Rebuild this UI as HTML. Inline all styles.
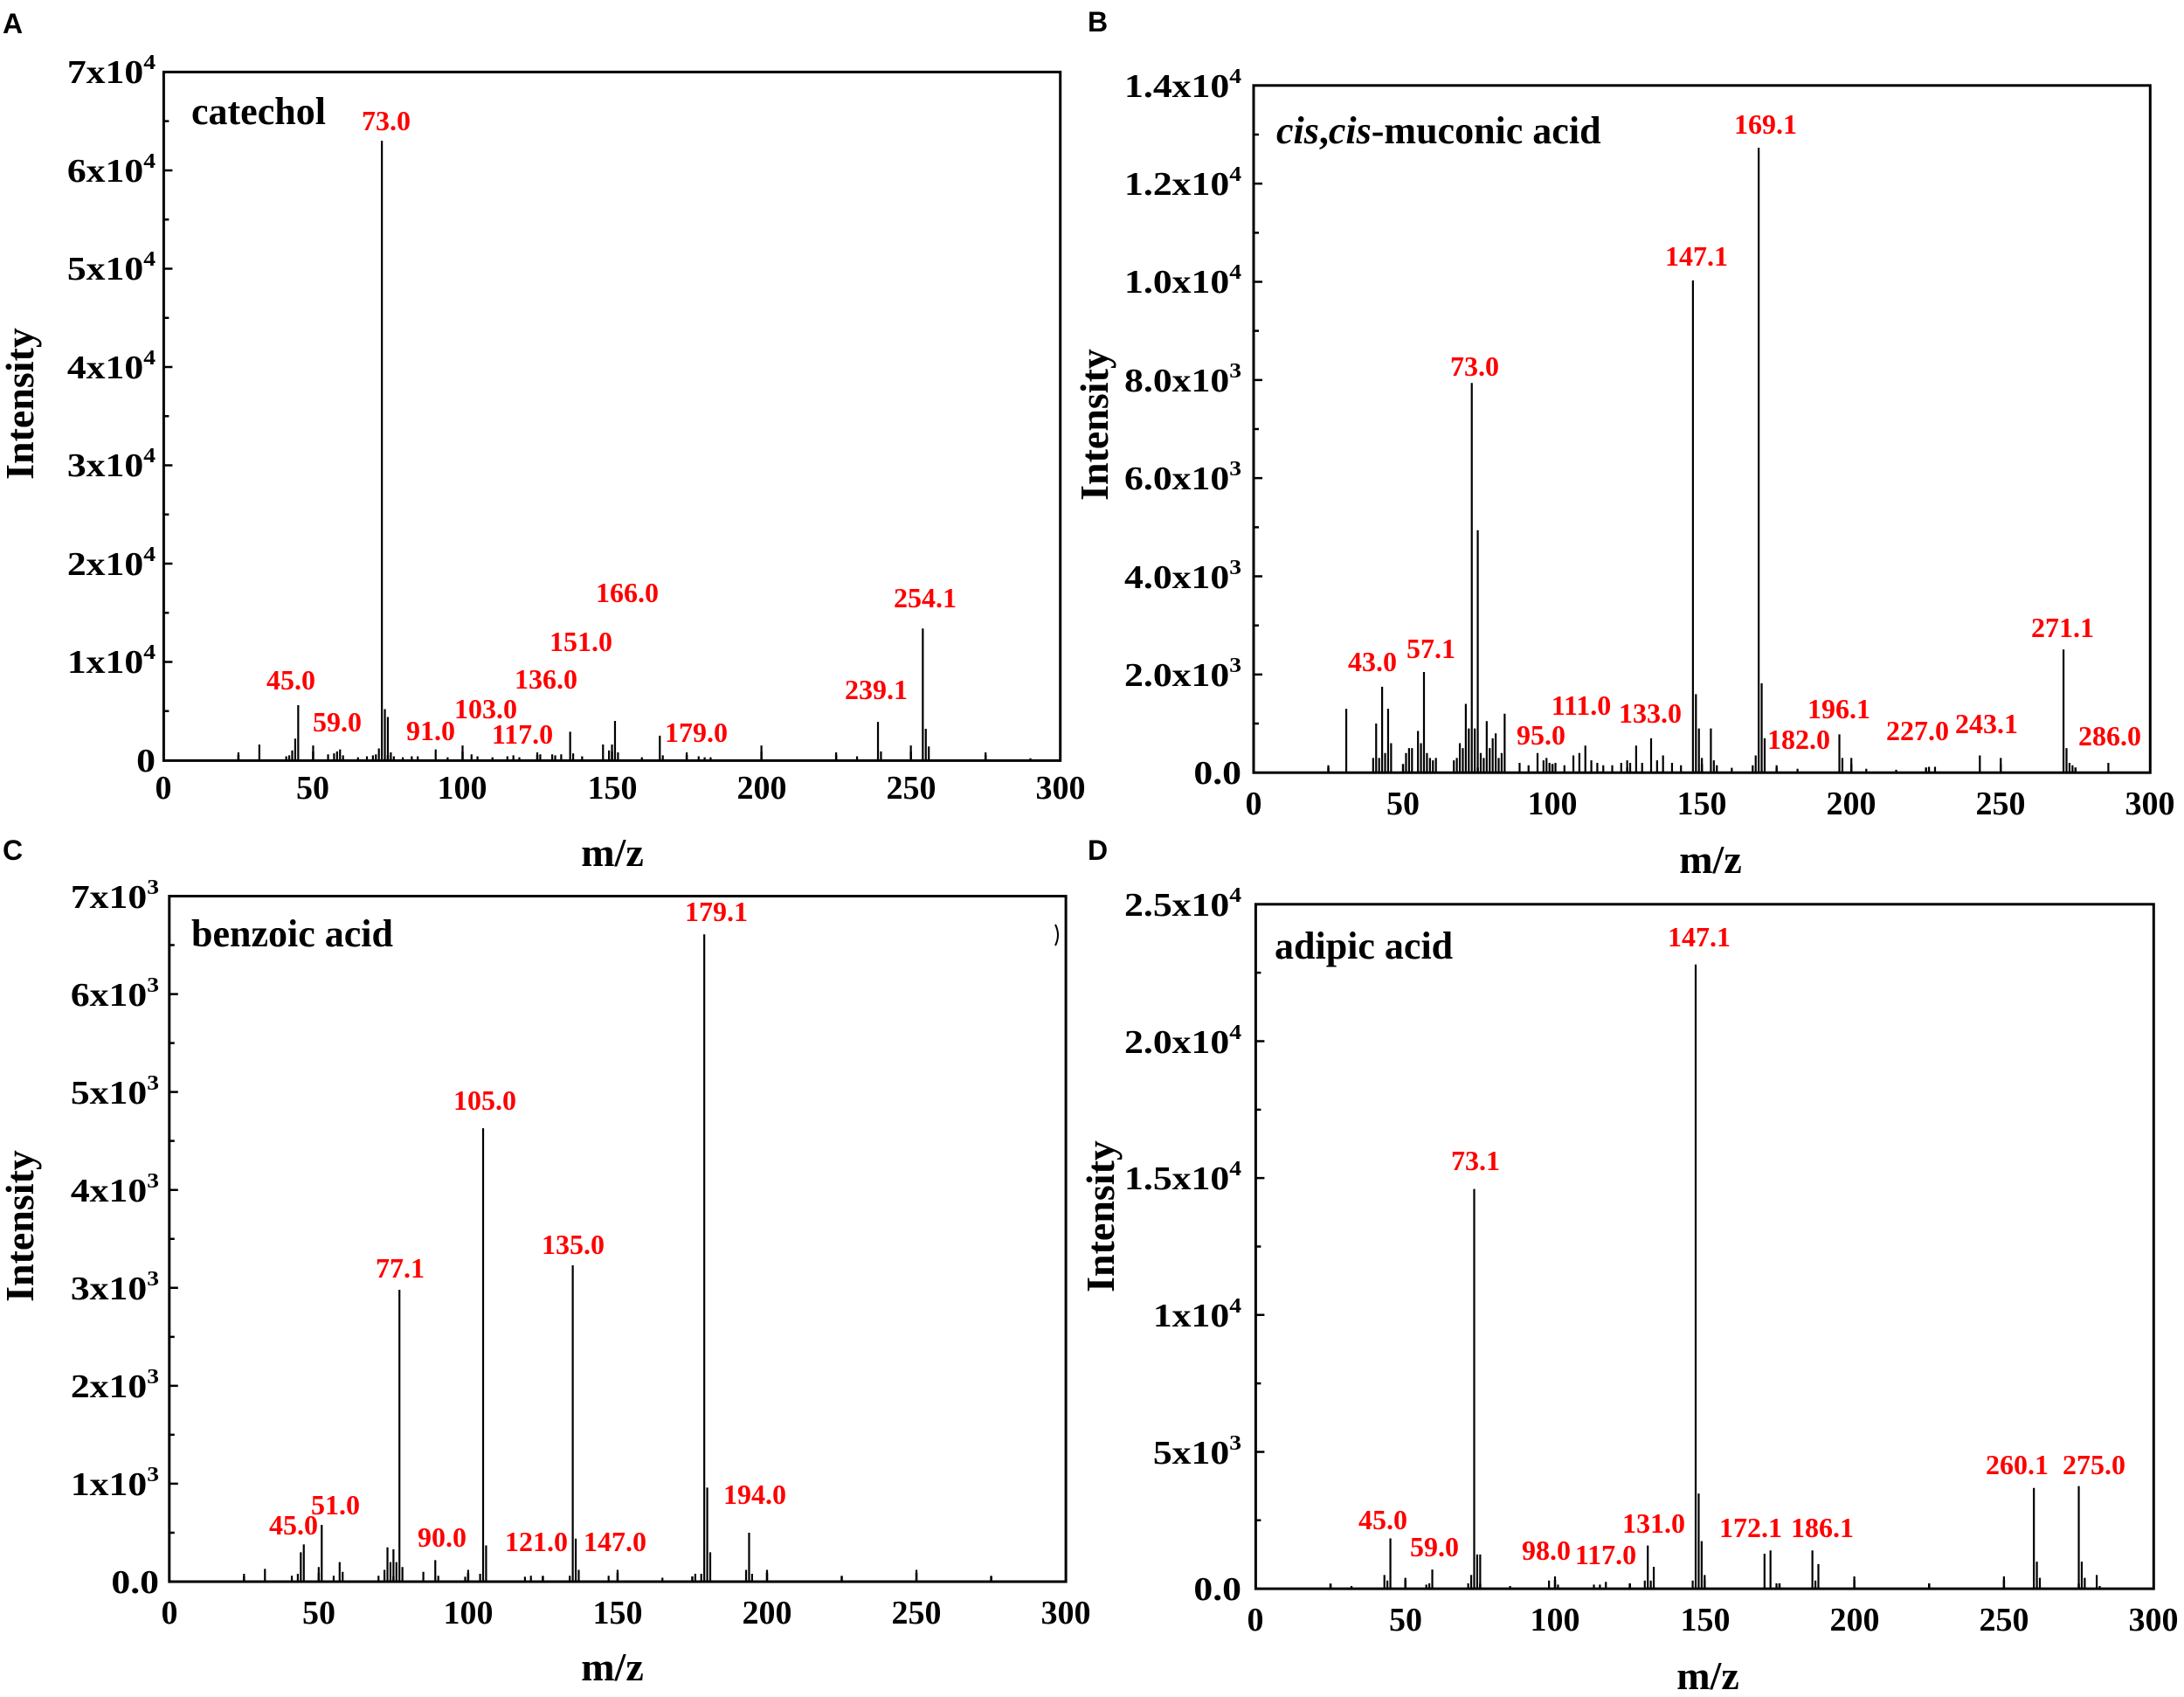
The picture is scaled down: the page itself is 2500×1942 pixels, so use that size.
<!DOCTYPE html>
<html><head><meta charset="utf-8"><style>
html,body{margin:0;padding:0;background:#fff}
svg{display:block}
.t{font-family:"Liberation Serif",serif;font-weight:bold;font-size:38px;fill:#000}
.r{font-family:"Liberation Serif",serif;font-weight:bold;font-size:32px;fill:#f00;text-anchor:middle}
.ti{font-family:"Liberation Serif",serif;font-weight:bold;font-size:44px;fill:#000}
.ax{font-family:"Liberation Serif",serif;font-weight:bold;font-size:46px;fill:#000;text-anchor:middle}
.pl{font-family:"Liberation Sans",sans-serif;font-weight:bold;font-size:32px;fill:#000}
.xt{text-anchor:middle}
.yt{text-anchor:end}
.pk{fill:none;stroke:#000;stroke-width:2.2}
.tk{fill:none;stroke:#000;stroke-width:2.5}
.box{fill:none;stroke:#000;stroke-width:3}
</style></head><body>
<svg width="2500" height="1942" viewBox="0 0 2500 1942" xmlns="http://www.w3.org/2000/svg">
<rect width="2500" height="1942" fill="#fff"/>

<!-- panel letters -->
<text class="pl" x="3" y="38">A</text>
<text class="pl" x="1245" y="36">B</text>
<text class="pl" x="3" y="984">C</text>
<text class="pl" x="1245" y="984">D</text>

<!-- ================= PANEL A ================= -->
<g transform="translate(187.4,870) scale(3.421,-0.011251)">
<path class="pk" vector-effect="non-scaling-stroke" d="M73 0V63000M74 0V5200M75 0V4400M72 0V1200M71 0V600M76 0V800M45 0V5600M44 0V2200M43 0V1000M42 0V500M41 0V400M32 0V1600M25 0V800M50 0V1500M55 0V600M57 0V700M58 0V900M59 0V1100M60 0V500M65 0V300M68 0V400M70 0V500M77 0V400M80 0V300M83 0V400M85 0V400M91 0V1100M95 0V300M100 0V1500M103 0V600M105 0V400M110 0V300M115 0V400M117 0V500M119 0V300M125 0V800M126 0V600M130 0V600M131 0V500M133 0V600M136 0V2900M137 0V700M140 0V400M147 0V1600M149 0V1000M150 0V1600M151 0V4000M152 0V800M160 0V300M166 0V2500M167 0V500M175 0V800M179 0V400M181 0V300M183 0V300M200 0V1500M225 0V800M232 0V400M239 0V3900M240 0V900M250 0V1500M254 0V13400M255 0V3200M256 0V1400M275 0V800M290 0V200"/>
<path class="tk" vector-effect="non-scaling-stroke" d="M0 10000h2.92M0 20000h2.92M0 30000h2.92M0 40000h2.92M0 50000h2.92M0 60000h2.92M0 5000h1.75M0 15000h1.75M0 25000h1.75M0 35000h1.75M0 45000h1.75M0 55000h1.75M0 65000h1.75M50 0v889M100 0v889M150 0v889M200 0v889M250 0v889M25 0v533M75 0v533M125 0v533M175 0v533M225 0v533M275 0v533"/>
</g>
<rect class="box" x="187.4" y="82.4" width="1026.3" height="788"/>
<g class="t">
<text class="yt" transform="translate(178,883) scale(1.15,1)">0</text>
<text class="yt" transform="translate(178,770) scale(1.15,1)">1x10<tspan font-size="24" dy="-16">4</tspan></text>
<text class="yt" transform="translate(178,658) scale(1.15,1)">2x10<tspan font-size="24" dy="-16">4</tspan></text>
<text class="yt" transform="translate(178,545) scale(1.15,1)">3x10<tspan font-size="24" dy="-16">4</tspan></text>
<text class="yt" transform="translate(178,433) scale(1.15,1)">4x10<tspan font-size="24" dy="-16">4</tspan></text>
<text class="yt" transform="translate(178,320) scale(1.15,1)">5x10<tspan font-size="24" dy="-16">4</tspan></text>
<text class="yt" transform="translate(178,208) scale(1.15,1)">6x10<tspan font-size="24" dy="-16">4</tspan></text>
<text class="yt" transform="translate(178,95) scale(1.15,1)">7x10<tspan font-size="24" dy="-16">4</tspan></text>
<text class="xt" x="187" y="914">0</text><text class="xt" x="358" y="914">50</text><text class="xt" x="529" y="914">100</text><text class="xt" x="701" y="914">150</text><text class="xt" x="872" y="914">200</text><text class="xt" x="1043" y="914">250</text><text class="xt" x="1214" y="914">300</text>
</g>
<text class="ti" x="219" y="142">catechol</text>
<g class="r">
<text x="442" y="149">73.0</text><text x="333" y="789">45.0</text><text x="386" y="837">59.0</text><text x="493" y="847">91.0</text><text x="556" y="822">103.0</text><text x="598" y="851">117.0</text><text x="625" y="788">136.0</text><text x="665" y="745">151.0</text><text x="718" y="689">166.0</text><text x="797" y="849">179.0</text><text x="1003" y="800">239.1</text><text x="1059" y="695">254.1</text>
</g>
<text class="ax" x="701" y="991">m/z</text>
<text class="ax" transform="translate(38,462) rotate(-90)">Intensity</text>

<!-- ================= PANEL B ================= -->
<g transform="translate(1435,884.2) scale(3.421,-0.05617)">
<path class="pk" vector-effect="non-scaling-stroke" d="M169 0V12730M170 0V1820M171 0V700M168 0V350M167 0V150M147 0V10030M148 0V1600M149 0V900M150 0V300M153 0V900M154 0V250M73 0V7940M75 0V4940M74 0V900M72 0V900M71 0V1400M70 0V500M69 0V600M68 0V300M67 0V250M76 0V400M77 0V300M78 0V1050M79 0V500M80 0V700M81 0V800M82 0V300M83 0V400M84 0V1200M57 0V2050M43 0V1750M45 0V1300M41 0V1000M42 0V300M40 0V300M44 0V400M46 0V600M31 0V1300M25 0V150M51 0V400M52 0V500M53 0V500M55 0V850M56 0V600M58 0V400M59 0V300M60 0V250M61 0V300M89 0V200M92 0V150M95 0V400M97 0V250M98 0V300M99 0V200M101 0V200M104 0V150M107 0V350M109 0V400M111 0V550M113 0V250M115 0V200M117 0V150M120 0V150M123 0V200M125 0V250M126 0V200M128 0V550M130 0V200M133 0V700M135 0V250M137 0V350M140 0V200M143 0V150M155 0V150M160 0V100M175 0V150M182 0V80M196 0V780M197 0V300M200 0V300M205 0V80M215 0V60M226 0V120M228 0V120M243 0V350M250 0V300M271 0V2510M272 0V500M273 0V200M274 0V150M286 0V200"/>
<path class="tk" vector-effect="non-scaling-stroke" d="M0 2000h2.92M0 4000h2.92M0 6000h2.92M0 8000h2.92M0 10000h2.92M0 12000h2.92M0 1000h1.75M0 3000h1.75M0 5000h1.75M0 7000h1.75M0 9000h1.75M0 11000h1.75M0 13000h1.75M50 0v178M100 0v178M150 0v178M200 0v178M250 0v178M25 0v107M75 0v107M125 0v107M175 0v107M225 0v107M275 0v107"/>
</g>
<rect class="box" x="1435" y="97.8" width="1026.3" height="786.4"/>
<g class="t">
<text class="yt" transform="translate(1421,897) scale(1.15,1)">0.0</text>
<text class="yt" transform="translate(1421,785) scale(1.15,1)">2.0x10<tspan font-size="24" dy="-16">3</tspan></text>
<text class="yt" transform="translate(1421,673) scale(1.15,1)">4.0x10<tspan font-size="24" dy="-16">3</tspan></text>
<text class="yt" transform="translate(1421,560) scale(1.15,1)">6.0x10<tspan font-size="24" dy="-16">3</tspan></text>
<text class="yt" transform="translate(1421,448) scale(1.15,1)">8.0x10<tspan font-size="24" dy="-16">3</tspan></text>
<text class="yt" transform="translate(1421,335) scale(1.15,1)">1.0x10<tspan font-size="24" dy="-16">4</tspan></text>
<text class="yt" transform="translate(1421,223) scale(1.15,1)">1.2x10<tspan font-size="24" dy="-16">4</tspan></text>
<text class="yt" transform="translate(1421,111) scale(1.15,1)">1.4x10<tspan font-size="24" dy="-16">4</tspan></text>
<text class="xt" x="1435" y="932">0</text><text class="xt" x="1606" y="932">50</text><text class="xt" x="1777" y="932">100</text><text class="xt" x="1948" y="932">150</text><text class="xt" x="2119" y="932">200</text><text class="xt" x="2290" y="932">250</text><text class="xt" x="2461" y="932">300</text>
</g>
<text class="ti" x="1461" y="164"><tspan font-style="italic">cis</tspan>,<tspan font-style="italic">cis</tspan>-muconic acid</text>
<g class="r">
<text x="2021" y="153">169.1</text><text x="1942" y="304">147.1</text><text x="1688" y="430">73.0</text><text x="1571" y="768">43.0</text><text x="1638" y="753">57.1</text><text x="1764" y="852">95.0</text><text x="1810" y="818">111.0</text><text x="1889" y="827">133.0</text><text x="2059" y="857">182.0</text><text x="2105" y="822">196.1</text><text x="2195" y="847">227.0</text><text x="2274" y="839">243.1</text><text x="2361" y="729">271.1</text><text x="2415" y="853">286.0</text>
</g>
<text class="ax" x="1958" y="999">m/z</text>
<text class="ax" transform="translate(1268,486) rotate(-90)">Intensity</text>

<!-- ================= PANEL C ================= -->
<g transform="translate(193.8,1810) scale(3.421,-0.11207)">
<path class="pk" vector-effect="non-scaling-stroke" d="M179 0V6610M180 0V960M181 0V300M178 0V80M77 0V2980M76 0V200M78 0V150M75 0V330M74 0V200M73 0V350M72 0V120M70 0V60M135 0V3230M136 0V440M137 0V120M134 0V60M105 0V4630M106 0V370M104 0V80M51 0V580M50 0V150M45 0V380M44 0V300M43 0V80M41 0V60M57 0V200M58 0V100M55 0V60M32 0V130M25 0V80M85 0V100M89 0V220M90 0V60M100 0V120M99 0V50M119 0V50M121 0V60M125 0V60M147 0V60M150 0V120M165 0V40M176 0V80M193 0V120M194 0V500M195 0V80M200 0V120M225 0V60M250 0V120M275 0V60"/>
<path class="tk" vector-effect="non-scaling-stroke" d="M0 1000h2.92M0 2000h2.92M0 3000h2.92M0 4000h2.92M0 5000h2.92M0 6000h2.92M0 500h1.75M0 1500h1.75M0 2500h1.75M0 3500h1.75M0 4500h1.75M0 5500h1.75M0 6500h1.75M50 0v89M100 0v89M150 0v89M200 0v89M250 0v89M25 0v53.5M75 0v53.5M125 0v53.5M175 0v53.5M225 0v53.5M275 0v53.5"/>
</g>
<rect class="box" x="193.8" y="1025.5" width="1026.3" height="784.5"/>
<path d="M1208 1058 q6 12 0 24" fill="none" stroke="#000" stroke-width="2"/>
<g class="t">
<text class="yt" transform="translate(182,1823) scale(1.15,1)">0.0</text>
<text class="yt" transform="translate(182,1711) scale(1.15,1)">1x10<tspan font-size="24" dy="-16">3</tspan></text>
<text class="yt" transform="translate(182,1599) scale(1.15,1)">2x10<tspan font-size="24" dy="-16">3</tspan></text>
<text class="yt" transform="translate(182,1487) scale(1.15,1)">3x10<tspan font-size="24" dy="-16">3</tspan></text>
<text class="yt" transform="translate(182,1375) scale(1.15,1)">4x10<tspan font-size="24" dy="-16">3</tspan></text>
<text class="yt" transform="translate(182,1263) scale(1.15,1)">5x10<tspan font-size="24" dy="-16">3</tspan></text>
<text class="yt" transform="translate(182,1151) scale(1.15,1)">6x10<tspan font-size="24" dy="-16">3</tspan></text>
<text class="yt" transform="translate(182,1039) scale(1.15,1)">7x10<tspan font-size="24" dy="-16">3</tspan></text>
<text class="xt" x="194" y="1858">0</text><text class="xt" x="365" y="1858">50</text><text class="xt" x="536" y="1858">100</text><text class="xt" x="707" y="1858">150</text><text class="xt" x="878" y="1858">200</text><text class="xt" x="1049" y="1858">250</text><text class="xt" x="1220" y="1858">300</text>
</g>
<text class="ti" x="219" y="1083">benzoic acid</text>
<g class="r">
<text x="820" y="1054">179.1</text><text x="555" y="1270">105.0</text><text x="656" y="1435">135.0</text><text x="458" y="1462">77.1</text><text x="336" y="1756">45.0</text><text x="384" y="1733">51.0</text><text x="506" y="1770">90.0</text><text x="614" y="1775">121.0</text><text x="704" y="1775">147.0</text><text x="864" y="1721">194.0</text>
</g>
<text class="ax" x="701" y="1923">m/z</text>
<text class="ax" transform="translate(38,1403) rotate(-90)">Intensity</text>

<!-- ================= PANEL D ================= -->
<g transform="translate(1437.4,1818.1) scale(3.426,-0.03133)">
<path class="pk" vector-effect="non-scaling-stroke" d="M147 0V22800M148 0V3480M149 0V1740M150 0V500M146 0V300M73 0V14600M74 0V1250M75 0V1250M72 0V500M71 0V200M45 0V1840M44 0V300M43 0V500M50 0V400M57 0V150M59 0V700M58 0V200M25 0V150M32 0V100M85 0V100M98 0V300M100 0V450M101 0V150M113 0V150M115 0V150M117 0V250M125 0V200M130 0V300M131 0V1580M132 0V300M133 0V800M170 0V1280M172 0V1400M174 0V200M175 0V200M186 0V1400M187 0V300M188 0V900M200 0V450M225 0V200M250 0V450M260 0V3680M261 0V990M262 0V400M275 0V3750M276 0V990M277 0V400M281 0V500M282 0V100"/>
<path class="tk" vector-effect="non-scaling-stroke" d="M0 5000h2.92M0 10000h2.92M0 15000h2.92M0 20000h2.92M0 2500h1.75M0 7500h1.75M0 12500h1.75M0 17500h1.75M0 22500h1.75M50 0v319M100 0v319M150 0v319M200 0v319M250 0v319M25 0v191M75 0v191M125 0v191M175 0v191M225 0v191M275 0v191"/>
</g>
<rect class="box" x="1437.4" y="1034.8" width="1027.9" height="783.3"/>
<g class="t">
<text class="yt" transform="translate(1421,1831) scale(1.15,1)">0.0</text>
<text class="yt" transform="translate(1421,1675) scale(1.15,1)">5x10<tspan font-size="24" dy="-16">3</tspan></text>
<text class="yt" transform="translate(1421,1518) scale(1.15,1)">1x10<tspan font-size="24" dy="-16">4</tspan></text>
<text class="yt" transform="translate(1421,1361) scale(1.15,1)">1.5x10<tspan font-size="24" dy="-16">4</tspan></text>
<text class="yt" transform="translate(1421,1205) scale(1.15,1)">2.0x10<tspan font-size="24" dy="-16">4</tspan></text>
<text class="yt" transform="translate(1421,1048) scale(1.15,1)">2.5x10<tspan font-size="24" dy="-16">4</tspan></text>
<text class="xt" x="1437" y="1866">0</text><text class="xt" x="1609" y="1866">50</text><text class="xt" x="1780" y="1866">100</text><text class="xt" x="1952" y="1866">150</text><text class="xt" x="2123" y="1866">200</text><text class="xt" x="2294" y="1866">250</text><text class="xt" x="2465" y="1866">300</text>
</g>
<text class="ti" x="1459" y="1097">adipic acid</text>
<g class="r">
<text x="1945" y="1083">147.1</text><text x="1689" y="1339">73.1</text><text x="1583" y="1750">45.0</text><text x="1642" y="1781">59.0</text><text x="1770" y="1785">98.0</text><text x="1838" y="1790">117.0</text><text x="1893" y="1754">131.0</text><text x="2004" y="1759">172.1</text><text x="2086" y="1759">186.1</text><text x="2309" y="1687">260.1</text><text x="2397" y="1687">275.0</text>
</g>
<text class="ax" x="1955" y="1933">m/z</text>
<text class="ax" transform="translate(1275,1392) rotate(-90)">Intensity</text>
</svg>
</body></html>
